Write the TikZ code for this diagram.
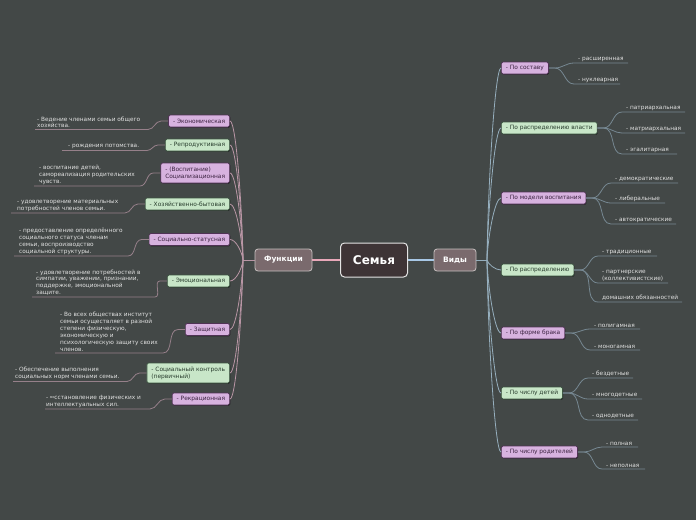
\documentclass[tikz,border=0pt]{standalone}
\usepackage{fontspec}
\setmainfont{DejaVu Sans}
\usetikzlibrary{shadows,calc}
\definecolor{bg}{RGB}{67,72,71}
\definecolor{pinkf}{RGB}{215,178,223}
\definecolor{pinkd}{RGB}{80,50,85}
\definecolor{pinkt}{RGB}{60,35,65}
\definecolor{greenf}{RGB}{200,230,200}
\definecolor{greend}{RGB}{60,85,65}
\definecolor{greent}{RGB}{40,60,45}
\definecolor{leaft}{RGB}{225,225,225}
\definecolor{lline}{RGB}{185,150,165}
\definecolor{lleafc}{RGB}{150,128,138}
\definecolor{rline}{RGB}{150,175,190}
\definecolor{rleafc}{RGB}{118,136,146}
\definecolor{semf}{RGB}{62,52,54}
\definecolor{midf}{RGB}{122,106,109}
\definecolor{pinkmain}{RGB}{232,168,185}
\definecolor{bluemain}{RGB}{168,200,230}
\begin{document}
\begin{tikzpicture}[x=1pt,y=-1pt,
 box/.style={rectangle, rounded corners=1.5pt, draw, line width=0.7pt, font=\fontsize{5.9}{7}\selectfont, inner xsep=4.5pt, inner ysep=2pt, minimum height=12pt, align=left, drop shadow={shadow xshift=0.6pt, shadow yshift=-0.8pt, opacity=0.45, fill=black}},
 pinkbox/.style={box, fill=pinkf, draw=pinkd, text=pinkt},
 greenbox/.style={box, fill=greenf, draw=greend, text=greent},
 twoline/.style={minimum height=20pt},
 leaf/.style={inner sep=0pt, anchor=south west, align=left, text=leaft, font=\fontsize{5.8}{6.9}\selectfont},
 bl/.style={draw=lline, line width=0.8pt},
 br/.style={draw=rline, line width=0.8pt},
 ll/.style={draw=lleafc, line width=0.8pt},
 lr/.style={draw=rleafc, line width=0.8pt},
 core/.style={rectangle, rounded corners=4pt, fill=semf, draw={rgb,255:red,228;green,228;blue,228}, line width=1pt, minimum width=67pt, minimum height=34pt, text=white, font=\bfseries\fontsize{12}{14}\selectfont},
 mid/.style={rectangle, rounded corners=3pt, fill=midf, draw={rgb,255:red,200;green,192;blue,192}, line width=0.8pt, minimum height=22pt, text=white, font=\bfseries\fontsize{7.5}{9}\selectfont}
]
\fill[bg] (0,0) rectangle (696,520);
\useasboundingbox (0,0) rectangle (696,520);

% centre
\node[core] (sem) at (374,260) {Семья};
\node[mid, minimum width=57pt] (fun) at (283.5,260) {Функции};
\node[mid, minimum width=42pt] (vid) at (455,260) {Виды};
\coordinate (lh) at (243,260);
\coordinate (rh) at (487,260);
\draw[pinkmain, line width=1.8pt] (sem.west) -- (fun.east);
\draw[bluemain, line width=1.8pt] (sem.east) -- (vid.west);
\draw[bl] (fun.west) -- (lh);
\draw[br] (vid.east) -- (rh);

% left nodes
\node[pinkbox, anchor=east] (f1) at (230,121) {- Экономическая};
\node[greenbox, anchor=east] (f2) at (230,145) {- Репродуктивная};
\node[pinkbox, twoline, anchor=east] (f3) at (230,173) {- (Воспитание)\\Социализационная};
\node[greenbox, anchor=east] (f4) at (230,204) {- Хозяйственно-бытовая};
\node[pinkbox, anchor=east] (f5) at (230,239.5) {- Социально-статусная};
\node[greenbox, anchor=east] (f6) at (230,281) {- Эмоциональная};
\node[pinkbox, anchor=east] (f7) at (230,329.5) {- Защитная};
\node[greenbox, twoline, anchor=east] (f8) at (230,373) {- Социальный контроль\\(первичный)};
\node[pinkbox, anchor=east] (f9) at (230,399) {- Рекрационная};

\foreach \i/\y in {1/121,2/145,3/173,4/204,5/239.5,6/281,7/329.5,8/373,9/399}
  \draw[bl] (lh) .. controls (242,{260+0.4*(\y-260)}) and (236,\y) .. (f\i.east);

% left leaves
\node[leaf] (t1) at (37,128.2) {- Ведение членами семьи общего\\хозяйства.};
\node[leaf] (t2) at (68,149.2) {- рождения потомства.};
\node[leaf] (t3) at (39,184.7) {- воспитание детей,\\самореализация родительских\\чувств.};
\node[leaf] (t4) at (17,211.7) {- удовлетворение материальных\\потребностей членов семьи.};
\node[leaf] (t5) at (19,254.7) {- предоставление определённого\\социального статуса членам\\семьи, воспроизводство\\социальной структуры.};
\node[leaf] (t6) at (36,295.7) {- удовлетворение потребностей в\\симпатии, уважении, признании,\\поддержке, эмоциональной\\защите.};
\node[leaf] (t7) at (60,351.7) {- Во всех обществах институт\\семьи осуществляет в разной\\степени физическую,\\экономическую и\\психологическую защиту своих\\членов.};
\node[leaf] (t8) at (15,380.2) {- Обеспечение выполнения\\социальных норм членами семьи.};
\node[leaf] (t9) at (46,407.7) {- {\fontsize{3.6}{4}\selectfont\raisebox{1.3pt}{во}}сстановление физических и\\интеллектуальных сил.};

\foreach \i/\r/\l/\u in {1/148/35/129.5,2/147/62/150.5,3/140/34/186,4/125/11/213,5/128/14/256,6/155/32/297,7/163/55/353,8/127/13/381.5,9/150/45/409}{
  \coordinate (ur\i) at (\r,\u);
  \coordinate (ul\i) at (\l,\u);
  \draw[ll] (f\i.west) -- ++(-7,0) to[out=180,in=0] (ur\i) -- (ul\i);
}

% right nodes
\node[pinkbox, anchor=west] (v1) at (501,68) {- По составу};
\node[greenbox, anchor=west] (v2) at (501,128) {- По распределению власти};
\node[pinkbox, anchor=west] (v3) at (501,198) {- По модели воспитания};
\node[greenbox, anchor=west] (v4) at (501,270) {- По распределению};
\node[pinkbox, anchor=west] (v5) at (501,333) {- По форме брака};
\node[greenbox, anchor=west] (v6) at (501,393) {- По числу детей};
\node[pinkbox, anchor=west] (v7) at (501,452) {- По числу родителей};

\foreach \i/\y in {1/68,2/128,3/198,4/270,5/333,6/393,7/452}
  \draw[br] (rh) .. controls (488,{260+0.4*(\y-260)}) and (495,\y) .. (v\i.west);

% right leaves
\foreach \v/\k/\x/\u/\e/\t in {
  v1/a/578/63/628/{- расширенная},
  v1/b/578/84/620/{- нуклеарная},
  v2/a/626/112/685/{- патриархальная},
  v2/b/626/133/685/{- матриархальная},
  v2/c/626/154/677/{- эгалитарная},
  v3/a/615/183/678/{- демократические},
  v3/b/615/203/665/{- либеральные},
  v3/c/615/224/676/{- автократические},
  v4/a/602/256/657/{- традиционные},
  v4/b/602/283/668/{- партнерские\\(коллективистские)},
  v4/c/602/302/682/{домашних обязанностей},
  v5/a/594/329/640/{- полигамная},
  v5/b/594/350/640/{- моногамная},
  v6/a/592/378/633/{- бездетные},
  v6/b/592/399/642/{- многодетные},
  v6/c/592/420/638/{- однодетные},
  v7/a/606/447/638/{- полная},
  v7/b/606/469/645/{- неполная}}{
  \node[leaf] (\v\k) at (\x,\u-1.3) {\t};
  \coordinate (\v\k s) at (\x-4,\u);
  \coordinate (\v\k e) at (\e,\u);
  \draw[lr] (\v.east) -- ++(6,0) to[out=0,in=180] (\v\k s) -- (\v\k e);
}
\end{tikzpicture}
\end{document}
